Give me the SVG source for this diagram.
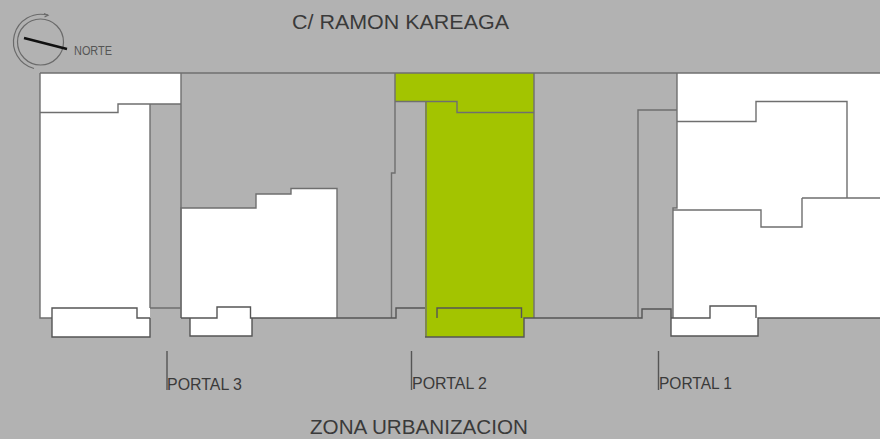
<svg xmlns="http://www.w3.org/2000/svg" width="880" height="439" viewBox="0 0 880 439">
<style>
.w{fill:#fff;stroke:none}
.g{fill:#a3c400;stroke:none}
.l{fill:none;stroke:#6f6f6f;stroke-width:1.4}
.d{stroke:#555}
text{font-family:"Liberation Sans",Arial,sans-serif;fill:#3a3a3a}
.t{font-size:20px}
.p{font-size:16.500px}
</style>
<rect width="880" height="439" fill="#b2b2b2"/>
<g id="compass" fill="none" stroke="#6a6a6a" stroke-width="1.2">
<circle cx="40.5" cy="42" r="23"/>
<path d="M48 15.200A27.500 27.500 0 1 0 34 68.500"/>
<path d="M44 13.500L48 15.200L44.500 17"/>
<path d="M24 38L67 49" stroke="#111" stroke-width="2.400"/>
</g>
<text x="74" y="55" font-size="12" textLength="38" lengthAdjust="spacingAndGlyphs" style="fill:#555">NORTE</text>
<g id="plan-fills">
<path class="w" d="M40 73H181V318H190V336H252V318H337V188H291V194H256V208H181V308H150V337H52V318H40Z"/>
<path class="g" d="M395 73H534V318H524V337H425V102H395Z"/>
<path class="w" d="M677 73H880V318H758V336H671V318H673V208L677 208Z"/>
<path fill="#b2b2b2" d="M150 104H181V308H150Z"/>
</g>
<g id="plan-lines">
<path class="l" d="M40 73H880"/>
<path class="l" d="M40 73V318H52M181 73V318M40 112.500H118V104H181M150 104V308M150 308H181"/>
<path class="l d" d="M52 318V308H137V318H150M52 318V337H150V318"/>
<path class="l" d="M181 318V208H256V194H291V188.500H337V318"/>
<path class="l d" d="M181 318H217V307H250.500V318H252V336H190V318M252 318H337"/>
<path class="l" d="M395 73V173H391.500V318M395 101.500H457V112.500H534M534 73V318M426 102V337"/>
<path class="l d" d="M337 318H396V308H425M425 337H524V318H638M437 318V308H521.500V318"/>
<path class="l" d="M638 318V110H677M677 73V208L673 208V318M677 121.500H756V101.500H847V198M802 198H880M802 198V227H761V210H673"/>
<path class="l d" d="M638 318H642V309H671V318M671 318V336H758V318H880M671 318H710V306H756V318"/>
<path class="l d" d="M167 351V390M411.500 351V390M658.500 351V390"/>
</g>
<text class="t" x="292" y="29" textLength="217" lengthAdjust="spacingAndGlyphs">C/ RAMON KAREAGA</text>
<text class="p" x="167" y="390" textLength="75" lengthAdjust="spacingAndGlyphs">PORTAL 3</text>
<text class="p" x="412" y="389" textLength="75" lengthAdjust="spacingAndGlyphs">PORTAL 2</text>
<text class="p" x="659" y="389" textLength="73" lengthAdjust="spacingAndGlyphs">PORTAL 1</text>
<text class="t" x="310" y="434" textLength="218" lengthAdjust="spacingAndGlyphs">ZONA URBANIZACION</text>
</svg>
